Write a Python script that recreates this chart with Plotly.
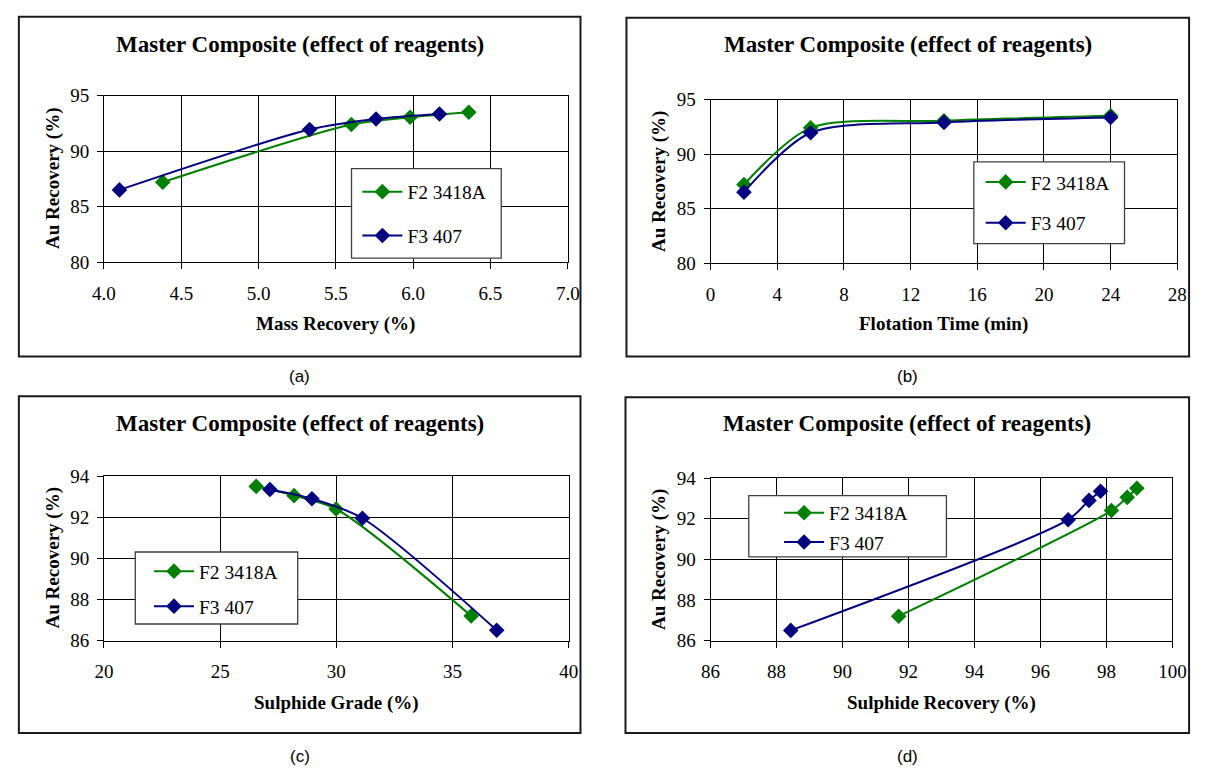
import plotly.graph_objects as go

W, H = 1207, 780

# ---------------- data ----------------
series_names = ["F2 3418A", "F3 407"]
flot_time = [2, 6, 14, 24]
au_f2 = [87.2, 92.4, 93.05, 93.5]
au_f3 = [86.5, 91.95, 92.9, 93.35]
mass_f2 = [4.38, 5.6, 5.98, 6.36]
mass_f3 = [4.1, 5.33, 5.76, 6.17]
grade_f2 = [35.8, 29.99, 28.18, 26.55]
grade_f3 = [36.9, 31.12, 28.95, 27.14]
srec_f2 = [91.7, 98.15, 98.63, 98.92]
srec_f3 = [88.43, 96.84, 97.47, 97.82]

chart_title = "Master Composite (effect of reagents)"
y_title = "Au Recovery (%)"
x_titles = ["Mass Recovery (%)", "Flotation Time (min)", "Sulphide Grade (%)", "Sulphide Recovery (%)"]
panel_labels = ["(a)", "(b)", "(c)", "(d)"]

x_ranges = [(4.0, 7.0, 0.5, ".1f"), (0, 28, 4, "d"), (20, 40, 5, "d"), (86, 100, 2, "d")]
y_ranges = [(80, 95, 5), (80, 95, 5), (86, 94, 2), (86, 94, 2)]

xs_f2 = [mass_f2, flot_time, grade_f2, srec_f2]
xs_f3 = [mass_f3, flot_time, grade_f3, srec_f3]

colors = ["#008000", "#000080"]

# ---------------- layout geometry (pixels) ----------------
boxes = [(7, 7, 581, 356), (628, 8, 1203, 356), (7, 397, 581, 743), (627, 398, 1203, 743)]
plots = [(94, 88, 568, 259), (714, 92, 1191, 260), (94, 479, 569, 648), (714, 481, 1186, 648)]
legend_boxes = [(347, 163, 500, 255), (983, 156, 1137, 240), (126, 557, 292, 631), (753, 499, 955, 562)]
legend_items_y = [(187, 232), (177, 219), (577, 613), (517, 547)]
legend_sym_x = [363, 1000, 150, 794]
title_y = [35, 35, 425, 425]
xtitle_y = [323, 323, 712, 712]
label_y = [377, 377, 767, 767]


def fx(p):
    return p / W


def fy(p):
    return 1 - p / H


fig = go.Figure()
shapes = []
annotations = []
layout_extra = {}

SERIF = "Liberation Serif, Times New Roman, serif"

for i in range(4):
    ax = "" if i == 0 else str(i + 1)
    xa, ya = "x" + ax, "y" + ax
    l, t, r, b = plots[i]
    x0, x1, dx, fmt = x_ranges[i]
    y0, y1, dy = y_ranges[i]

    layout_extra["xaxis" + ax] = dict(
        domain=[fx(l), fx(r)], anchor=ya, range=[x0, x1], dtick=dx, tick0=x0,
        tickformat=fmt, showgrid=True, gridcolor="#000000", gridwidth=1,
        showline=True, linecolor="#000000", linewidth=1, mirror=True,
        ticks="outside", ticklen=6, tickcolor="#000000", zeroline=False,
        ticklabelstandoff=8,
        tickfont=dict(family=SERIF, size=19, color="#000000"),
    )
    layout_extra["yaxis" + ax] = dict(
        domain=[fy(b), fy(t)], anchor=xa, range=[y0, y1], dtick=dy, tick0=y0,
        showgrid=True, gridcolor="#000000", gridwidth=1,
        showline=True, linecolor="#000000", linewidth=1, mirror=True,
        ticks="outside", ticklen=6, tickcolor="#000000", zeroline=False,
        ticklabelstandoff=4,
        tickfont=dict(family=SERIF, size=19, color="#000000"),
    )

    for k, (xs, ys) in enumerate([(xs_f2[i], au_f2), (xs_f3[i], au_f3)]):
        leg = "legend" + ("" if (i * 2 + k) == 0 else str(i * 2 + k + 1))
        fig.add_trace(go.Scatter(
            x=xs, y=ys, xaxis=xa, yaxis=ya, mode="lines+markers",
            name=series_names[k], legend=leg,
            line=dict(color=colors[k], width=2, shape="spline", smoothing=0.8),
            marker=dict(symbol="diamond", size=12, color=colors[k]),
        ))
        layout_extra[leg] = dict(
            x=fx(legend_sym_x[i] - 10), y=fy(legend_items_y[i][k]),
            xanchor="left", yanchor="middle", bgcolor="rgba(0,0,0,0)",
            borderwidth=0, itemwidth=40,
            font=dict(family=SERIF, size=19.5, color="#000000"),
        )

    # panel frame
    bl, bt, br, bb = boxes[i]
    shapes.append(dict(type="rect", xref="paper", yref="paper",
                       x0=fx(bl), x1=fx(br), y0=fy(bb), y1=fy(bt),
                       line=dict(color="#1a1a1a", width=2), fillcolor="rgba(0,0,0,0)", layer="below"))
    # legend frame
    ll, lt, lr, lb = legend_boxes[i]
    shapes.append(dict(type="rect", xref="paper", yref="paper",
                       x0=fx(ll), x1=fx(lr), y0=fy(lb), y1=fy(lt),
                       line=dict(color="#404040", width=1.3), fillcolor="#ffffff", layer="above"))

    # titles
    annotations.append(dict(text="<b>" + chart_title + "</b>", xref="paper", yref="paper",
                            x=fx((bl + br) / 2), y=fy(title_y[i]), xanchor="center", yanchor="middle",
                            showarrow=False, font=dict(family=SERIF, size=23, color="#000000")))
    annotations.append(dict(text="<b>" + x_titles[i] + "</b>", xref="paper", yref="paper",
                            x=fx((l + r) / 2), y=fy(xtitle_y[i]), xanchor="center", yanchor="middle",
                            showarrow=False, font=dict(family=SERIF, size=19, color="#000000")))
    annotations.append(dict(text="<b>" + y_title + "</b>", xref="paper", yref="paper",
                            x=fx(l - 52), y=fy((t + b) / 2), xanchor="center", yanchor="middle",
                            textangle=-90, showarrow=False,
                            font=dict(family=SERIF, size=19, color="#000000")))
    annotations.append(dict(text=panel_labels[i], xref="paper", yref="paper",
                            x=fx((bl + br) / 2), y=fy(label_y[i]), xanchor="center", yanchor="middle",
                            showarrow=False, font=dict(family="Liberation Sans, Arial, sans-serif", size=17, color="#000000")))

fig.update_layout(
    width=W, height=H, margin=dict(l=0, r=0, t=0, b=0),
    paper_bgcolor="#ffffff", plot_bgcolor="#ffffff",
    font=dict(family=SERIF, size=19, color="#000000"),
    showlegend=True, shapes=shapes, annotations=annotations,
    **layout_extra,
)

fig.write_html("out.html")
